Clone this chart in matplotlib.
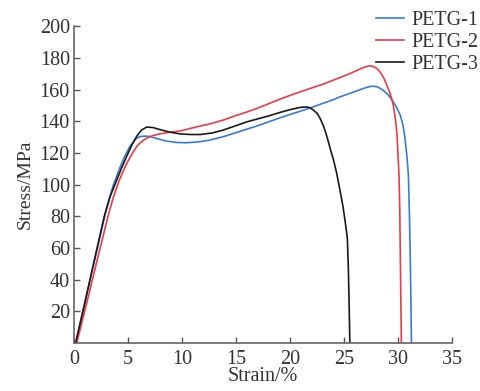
import matplotlib
matplotlib.use("Agg")
import matplotlib.pyplot as plt

# PETG-1 (azul)
x1 = [0.15, 1.0, 2.0, 3.0, 3.6, 4.2, 4.7, 5.2, 5.7, 6.1, 6.6, 7.0, 7.8, 8.6, 9.5,
      10.4, 11.5, 12.5, 13.8, 15.0, 16.0, 16.9, 18.0, 19.0, 20.0, 20.9, 22.0, 23.0,
      24.0, 24.6, 25.5, 26.3, 27.0, 27.4, 27.7, 28.1, 28.6, 29.1, 29.55, 29.9, 30.2,
      30.45, 30.6, 30.8, 30.95, 31.05, 31.12, 31.18, 31.23]
y1 = [0, 25.5, 55, 85, 99, 110, 118, 124.5, 128.8, 130.3, 130.6, 130.3, 128.8, 127.4, 126.6,
      126.4, 126.9, 128, 130.2, 132.8, 135, 136.9, 139.6, 142, 144.3, 146.2, 148.7, 151.2,
      153.6, 155.3, 157.5, 159.5, 161.2, 161.9, 162.1, 161.7, 159.6, 156.5, 152.3, 148.2, 143.8,
      137.5, 131, 119, 106, 80, 55, 28, 0]

# PETG-2 (rojo)
x2 = [0.25, 1.2, 2.2, 3.2, 3.64, 4.2, 4.88, 5.4, 5.8, 6.1, 6.6, 7.04, 7.8, 8.9, 9.8,
      10.74, 11.7, 12.8, 13.8, 15.0, 16.0, 16.9, 18.0, 19.0, 20.0, 20.9, 22.0, 23.2,
      24.6, 25.5, 26.3, 26.8, 27.1, 27.4, 27.7, 28.0, 28.3, 28.65, 28.95, 29.2, 29.4,
      29.55, 29.7, 29.82, 29.9, 30.0, 30.08, 30.15, 30.22, 30.3]
y2 = [0, 26, 54, 81.5, 92, 103, 113.4, 119.8, 124, 126.3, 128.8, 130.4, 131.8, 133.1, 133.8,
      135.4, 137, 138.7, 140.7, 143.6, 145.8, 148, 151, 153.8, 156.3, 158.5, 161, 163.8,
      167.5, 170, 172.4, 173.9, 174.6, 175, 174.6, 173.5, 171.3, 167.6, 162.8, 158.5, 154.4,
      150, 143.8, 137, 131.2, 117, 106, 85, 45, 0]

# PETG-3 (negro)
x3 = [0.15, 1.0, 2.0, 2.8, 3.33, 3.9, 4.4, 4.88, 5.35, 5.8, 6.25, 6.73, 7.3, 7.96, 8.8,
      9.8, 10.74, 11.7, 12.8, 13.8, 15.0, 16.0, 16.9, 18.0, 19.1, 20.0, 20.7, 21.2,
      21.5, 21.8, 22.1, 22.5, 22.8, 23.1, 23.4, 23.7, 24.0, 24.3, 24.6, 24.9, 25.15,
      25.3, 25.4, 25.47, 25.53]
y3 = [0, 25.5, 56, 80, 92.3, 102, 110.5, 118, 125, 130.5, 134.5, 136.3, 136, 134.7, 133.2,
      132, 131.6, 131.6, 132.6, 134.4, 137.2, 139.6, 141.3, 143.3, 145.6, 147.3, 148.4, 148.9,
      149, 148.6, 147.3, 145, 141.5, 136.8, 130.5, 123, 116, 107.5, 97, 86, 74,
      66, 45, 22, 0]

labels = ["PETG-1", "PETG-2", "PETG-3"]
xticks = [0, 5, 10, 15, 20, 25, 30, 35]
yticks = [20, 40, 60, 80, 100, 120, 140, 160, 180, 200]

plt.rcParams['font.family'] = ['Liberation Serif', 'DejaVu Serif']
plt.rcParams['font.size'] = 14
txt = '#333333'

fig = plt.figure(figsize=(4.81, 3.91), dpi=100)
ax = fig.add_axes([0.154, 0.123, 0.786, 0.81])

ax.plot(x1, y1, color='#3a7bd5', lw=1.2, label=labels[0])
ax.plot(x2, y2, color='#ea3c48', lw=1.2, label=labels[1])
ax.plot(x3, y3, color='#1a1a1a', lw=1.2, label=labels[2])

ax.set_xlim(0, 35)
ax.set_ylim(0, 200)
ax.set_xticks(xticks)
ax.set_yticks(yticks)
ax.tick_params(direction='in', length=4, width=1, colors='#555555', labelcolor=txt, labelsize=14.5)
ax.tick_params(axis='x', pad=5)
ax.tick_params(axis='y', pad=3)
for s in ['top', 'right']:
    ax.spines[s].set_visible(False)
for s in ['left', 'bottom']:
    ax.spines[s].set_color('#666666')
    ax.spines[s].set_linewidth(1.2)

ax.set_xlabel("Strain/%", color=txt, labelpad=-1, fontsize=14.5)
ax.set_ylabel("Stress/MPa", color=txt, labelpad=4, fontsize=14)

leg = ax.legend(loc='upper right', bbox_to_anchor=(1.017, 1.0), bbox_transform=fig.transFigure,
                frameon=False, handlelength=1.4, handletextpad=0.35, labelspacing=0.15,
                borderpad=0.05, fontsize=14.5)
for t in leg.get_texts():
    t.set_color(txt)

fig.savefig("out.png", dpi=100)
